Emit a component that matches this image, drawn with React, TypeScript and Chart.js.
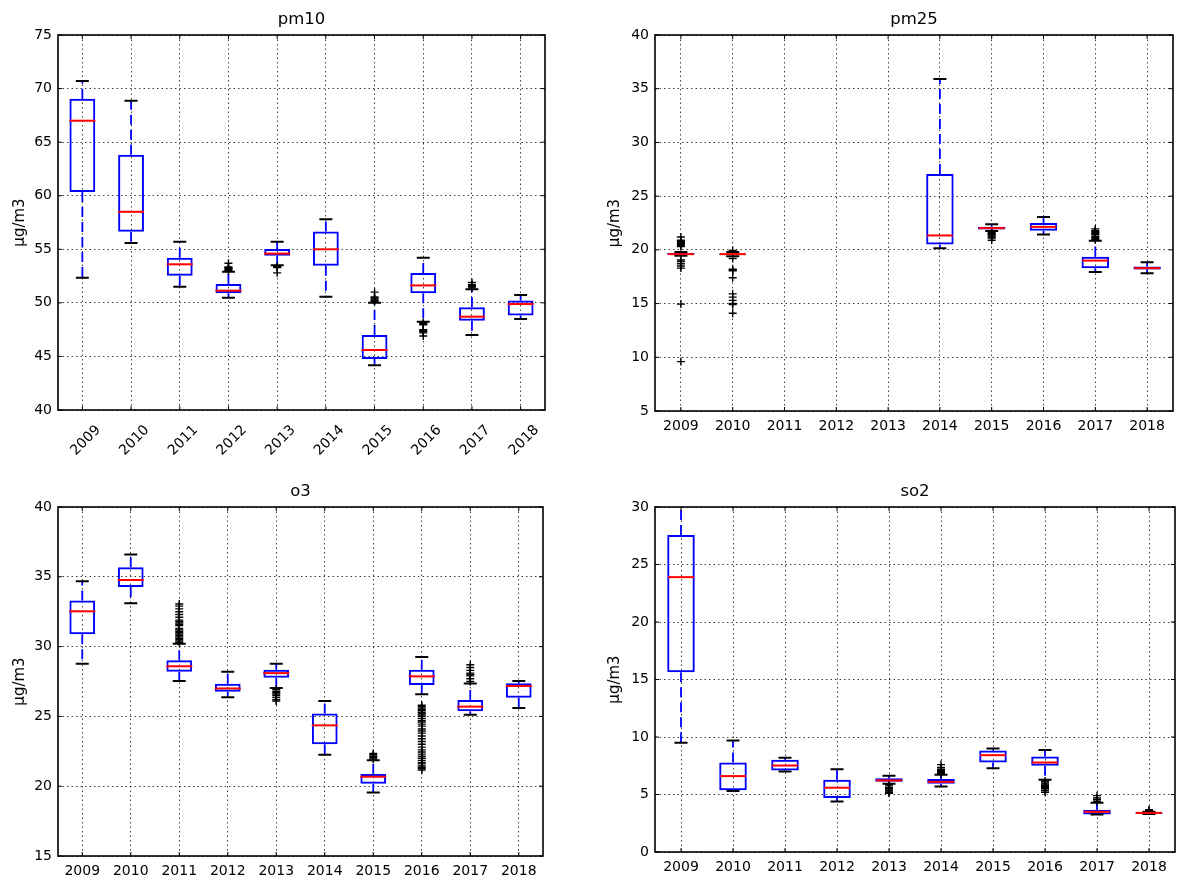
import React, { useEffect, useRef } from "react";
import { Chart, registerables } from "chart.js";

Chart.register(...registerables);

const years = ["2009", "2010", "2011", "2012", "2013", "2014", "2015", "2016", "2017", "2018"];

// pm10
const pm10Low = [52.35, 55.58, 51.5, 50.48, 53.5, 50.58, 44.17, 48.24, 47.0, 48.49];
const pm10Q1 = [60.35, 56.64, 52.54, 50.9, 54.4, 53.47, 44.76, 50.89, 48.33, 48.83];
const pm10Median = [67.0, 58.5, 53.6, 51.14, 54.6, 55.0, 45.6, 51.63, 48.71, 49.89];
const pm10Q3 = [69.06, 63.83, 54.2, 51.76, 55.03, 56.67, 47.0, 52.78, 49.58, 50.23];
const pm10High = [70.7, 68.87, 55.71, 52.9, 55.71, 57.8, 50.0, 54.22, 51.26, 50.73];
const pm10Outliers = [
  [], [], [],
  [53.0, 53.1, 53.15, 53.2, 53.3, 53.35, 53.7],
  [53.4, 53.35, 53.3, 52.8],
  [],
  [50.15, 50.25, 50.35, 50.45, 50.55, 51.0],
  [48.15, 48.05, 47.95, 47.5, 47.4, 47.3, 47.2, 46.9],
  [51.4, 51.5, 51.6, 51.7, 51.9],
  [],
];

// pm25
const pm25Low = [19.45, 19.4, null, null, null, 20.16, 21.75, 21.43, 17.95, 17.83];
const pm25Q1 = [19.55, 19.55, null, null, null, 20.5, 21.9, 21.77, 18.29, 18.17];
const pm25Median = [19.6, 19.6, null, null, null, 21.34, 22.02, 22.14, 19.0, 18.29];
const pm25Q3 = [19.7, 19.65, null, null, null, 27.05, 22.14, 22.5, 19.35, 18.45];
const pm25High = [19.8, 19.8, null, null, null, 35.9, 22.39, 23.07, 20.84, 18.85];
const pm25Outliers = [
  [21.2, 20.9, 20.8, 20.7, 20.6, 20.5, 20.4, 20.3, 19.05, 18.9, 18.7, 18.5, 18.3, 14.95, 9.6],
  [19.95, 19.2, 18.2, 18.1, 18.05, 17.4, 15.9, 15.6, 15.3, 15.0, 14.9, 14.1],
  [], [], [], [],
  [21.7, 21.6, 21.5, 21.45, 21.4, 21.3, 21.2, 21.1, 20.9],
  [],
  [20.95, 21.05, 21.15, 21.25, 21.4, 21.5, 21.6, 21.7, 21.8, 21.95],
  [],
];

// o3
const o3Low = [28.78, 33.1, 27.54, 26.37, 27.03, 22.26, 19.54, 26.58, 25.12, 25.6];
const o3Q1 = [30.88, 34.27, 28.2, 26.77, 27.77, 23.0, 20.18, 27.25, 25.36, 26.34];
const o3Median = [32.53, 34.77, 28.59, 27.0, 28.1, 24.36, 20.68, 27.87, 25.7, 27.18];
const o3Q3 = [33.31, 35.68, 29.02, 27.34, 28.35, 25.2, 20.87, 28.35, 26.17, 27.37];
const o3High = [34.68, 36.6, 30.21, 28.2, 28.78, 26.1, 21.85, 29.25, 27.35, 27.54];
const o3Outliers = [
  [], [],
  [30.3, 30.4, 30.5, 30.6, 30.7, 30.8, 30.9, 31.0, 31.1, 31.2, 31.3, 31.5, 31.6, 31.7, 31.8, 31.9, 32.1, 32.3, 32.5, 32.7, 32.9, 33.05],
  [],
  [26.95, 26.8, 26.7, 26.6, 26.5, 26.35, 26.2, 26.1],
  [],
  [21.95, 22.05, 22.15, 22.25, 22.35],
  [25.8, 25.72, 25.6, 25.5, 25.42, 25.3, 25.2, 25.1, 25.0, 24.85, 24.7, 24.6, 24.45, 24.3, 24.1, 23.95, 23.8, 23.6, 23.4, 23.2, 23.0, 22.8, 22.6, 22.45, 22.3, 22.15, 22.0, 21.85, 21.7, 21.6, 21.45, 21.35, 21.25, 21.15],
  [27.5, 27.7, 27.9, 28.0, 28.1, 28.3, 28.5, 28.7],
  [],
];

// so2
const so2Low = [9.49, 5.3, 7.0, 4.4, 5.93, 5.7, 7.29, 6.28, 3.27, 3.3];
const so2Q1 = [15.62, 5.38, 7.09, 4.69, 6.1, 5.93, 7.78, 7.5, 3.27, 3.33];
const so2Median = [23.9, 6.6, 7.52, 5.59, 6.22, 6.1, 8.42, 7.78, 3.5, 3.4];
const so2Q3 = [27.57, 7.78, 8.02, 6.28, 6.42, 6.34, 8.83, 8.3, 3.68, 3.45];
const so2High = [31.2, 9.69, 8.19, 7.2, 6.63, 6.71, 9.0, 8.88, 4.28, 3.5];
const so2Outliers = [
  [], [], [], [],
  [5.85, 5.75, 5.6, 5.5, 5.4, 5.3, 5.2, 5.1],
  [6.8, 6.9, 7.0, 7.1, 7.2, 7.35, 7.6],
  [],
  [6.15, 6.0, 5.9, 5.8, 5.7, 5.6, 5.5, 5.35, 5.2],
  [4.4, 4.55, 4.7, 4.9],
  [3.56, 3.62, 3.68],
];

const yMins = [40, 5, 15, 0];
const yMaxs = [75, 40, 40, 30];
const titles = ["pm10", "pm25", "o3", "so2"];

type Panel = {
  title: string;
  low: (number | null)[];
  q1: (number | null)[];
  median: (number | null)[];
  q3: (number | null)[];
  high: (number | null)[];
  outliers: number[][];
  yMin: number;
  yMax: number;
  rotate: boolean;
  left: number;
  top: number;
  width: number;
  height: number;
  yAxisWidth: number;
  xAxisHeight: number;
  titleTop: number;
  titleBottom: number;
  padRight: number;
};

const panels: Panel[] = [
  {
    title: titles[0], low: pm10Low, q1: pm10Q1, median: pm10Median, q3: pm10Q3, high: pm10High, outliers: pm10Outliers,
    yMin: yMins[0], yMax: yMaxs[0], rotate: true,
    left: 0, top: 0, width: 560, height: 465, yAxisWidth: 58, xAxisHeight: 55, titleTop: 10, titleBottom: 5.2, padRight: 5,
  },
  {
    title: titles[1], low: pm25Low, q1: pm25Q1, median: pm25Median, q3: pm25Q3, high: pm25High, outliers: pm25Outliers,
    yMin: yMins[1], yMax: yMaxs[1], rotate: false,
    left: 595, top: 0, width: 593, height: 441, yAxisWidth: 60, xAxisHeight: 30, titleTop: 10, titleBottom: 5.2, padRight: 5,
  },
  {
    title: titles[2], low: o3Low, q1: o3Q1, median: o3Median, q3: o3Q3, high: o3High, outliers: o3Outliers,
    yMin: yMins[2], yMax: yMaxs[2], rotate: false,
    left: 0, top: 460, width: 558, height: 420, yAxisWidth: 58, xAxisHeight: 24, titleTop: 22.1, titleBottom: 5.1, padRight: 5,
  },
  {
    title: titles[3], low: so2Low, q1: so2Q1, median: so2Median, q3: so2Q3, high: so2High, outliers: so2Outliers,
    yMin: yMins[3], yMax: yMaxs[3], rotate: false,
    left: 595, top: 460, width: 595, height: 420, yAxisWidth: 60, xAxisHeight: 28, titleTop: 22.1, titleBottom: 5.1, padRight: 3,
  },
];

const framePlugin = {
  id: "frame",
  afterDraw(chart: any) {
    const { ctx, chartArea: a, scales } = chart;
    ctx.save();
    ctx.strokeStyle = "#000";
    ctx.lineWidth = 1.6;
    ctx.strokeRect(a.left, a.top, a.right - a.left, a.bottom - a.top);
    ctx.lineWidth = 1;
    ctx.beginPath();
    const ys = scales.y;
    ys.ticks.forEach((_: any, i: number) => {
      const y = ys.getPixelForTick(i);
      ctx.moveTo(a.left, y);
      ctx.lineTo(a.left + 4, y);
      ctx.moveTo(a.right, y);
      ctx.lineTo(a.right - 4, y);
    });
    const xs = scales.x;
    xs.ticks.forEach((_: any, i: number) => {
      const x = xs.getPixelForTick(i);
      ctx.moveTo(x, a.bottom);
      ctx.lineTo(x, a.bottom - 4);
      ctx.moveTo(x, a.top);
      ctx.lineTo(x, a.top + 4);
    });
    ctx.stroke();
    ctx.restore();
  },
};

Chart.defaults.font.family = "'DejaVu Sans', sans-serif";
Chart.defaults.color = "#000";

function BoxPanel({ p }: { p: Panel }) {
  const ref = useRef<HTMLCanvasElement | null>(null);
  useEffect(() => {
    if (!ref.current) return;
    const has = (i: number) => p.q1[i] !== null;
    const boxes = years.map((_, i) => (has(i) ? [p.q1[i] as number, p.q3[i] as number] : null));
    const whiskers: any[] = [];
    const caps: any[] = [];
    const medians: any[] = [];
    const outliers: any[] = [];
    years.forEach((yr, i) => {
      if (has(i)) {
        whiskers.push(
          { x: yr, y: p.q3[i] }, { x: yr, y: p.high[i] }, { x: yr, y: null },
          { x: yr, y: p.q1[i] }, { x: yr, y: p.low[i] }, { x: yr, y: null }
        );
        caps.push({ x: yr, y: p.low[i] }, { x: yr, y: p.high[i] });
        medians.push({ x: yr, y: p.median[i] });
      }
      p.outliers[i].forEach((v) => outliers.push({ x: yr, y: v }));
    });
    const gridColor = "rgba(0,0,0,0.75)";
    const chart = new Chart(ref.current, {
      type: "bar",
      data: {
        labels: years,
        datasets: [
          {
            type: "line", data: whiskers, borderColor: "#0000ff", borderWidth: 1.8, borderDash: [10, 5],
            pointRadius: 0, pointHoverRadius: 0, spanGaps: false, order: 4,
          } as any,
          {
            type: "bar", data: boxes, backgroundColor: "rgba(0,0,0,0)", borderColor: "#0000ff", borderWidth: 2,
            borderSkipped: false, barPercentage: 0.53, categoryPercentage: 1, order: 3,
          } as any,
          {
            type: "line", data: caps, showLine: false, pointStyle: "line", pointRadius: 6.5, pointHoverRadius: 6.5,
            pointBorderWidth: 2, pointBorderColor: "#000", pointBackgroundColor: "#000", order: 2,
          } as any,
          {
            type: "line", data: outliers, showLine: false, pointStyle: "cross", pointRadius: 4, pointHoverRadius: 4,
            pointBorderWidth: 1.4, pointBorderColor: "#000", pointBackgroundColor: "#000", order: 2,
          } as any,
          {
            type: "line", data: medians, showLine: false, pointStyle: "line", pointRadius: 13, pointHoverRadius: 13,
            pointBorderWidth: 2, pointBorderColor: "#ff0000", pointBackgroundColor: "#ff0000", order: 1,
          } as any,
        ],
      },
      options: {
        responsive: false,
        animation: false,
        devicePixelRatio: 1,
        events: [],
        layout: { padding: { left: 0, right: p.padRight, top: 0, bottom: 0 } },
        plugins: {
          legend: { display: false },
          tooltip: { enabled: false },
          title: {
            display: true, text: p.title, fullSize: false, color: "#000",
            font: { size: 16.5, weight: "normal" },
            padding: { top: p.titleTop, bottom: p.titleBottom },
          },
        },
        scales: {
          x: {
            type: "category",
            offset: true,
            grid: { display: true, offset: false, color: gridColor, lineWidth: 1, drawTicks: false },
            border: { display: false, dash: [1.5, 3] },
            ticks: {
              color: "#000", font: { size: 14 }, autoSkip: false,
              maxRotation: p.rotate ? 45 : 0, minRotation: p.rotate ? 45 : 0,
              padding: p.rotate ? 12 : 7, labelOffset: p.rotate ? 16 : 0,
            },
            afterFit: (s: any) => { s.height = p.xAxisHeight; },
          },
          y: {
            min: p.yMin, max: p.yMax,
            grid: { display: true, color: gridColor, lineWidth: 1, drawTicks: false },
            border: { display: false, dash: [1.5, 3] },
            ticks: { stepSize: 5, color: "#000", font: { size: 14 }, padding: 6 },
            title: { display: true, text: "µg/m3", color: "#000", font: { size: 15 }, padding: { top: 11, bottom: 0 } },
            afterFit: (s: any) => { s.width = p.yAxisWidth; },
          },
        },
      } as any,
      plugins: [framePlugin],
    });
    return () => chart.destroy();
  }, [p]);
  return (
    <canvas
      ref={ref}
      width={p.width}
      height={p.height}
      style={{ position: "absolute", left: p.left, top: p.top, width: p.width, height: p.height }}
    />
  );
}

export default function App() {
  return (
    <div style={{ position: "absolute", left: 0, top: 0, width: 1190, height: 880, background: "#fff" }}>
      {panels.map((p) => (
        <BoxPanel key={p.title} p={p} />
      ))}
    </div>
  );
}
